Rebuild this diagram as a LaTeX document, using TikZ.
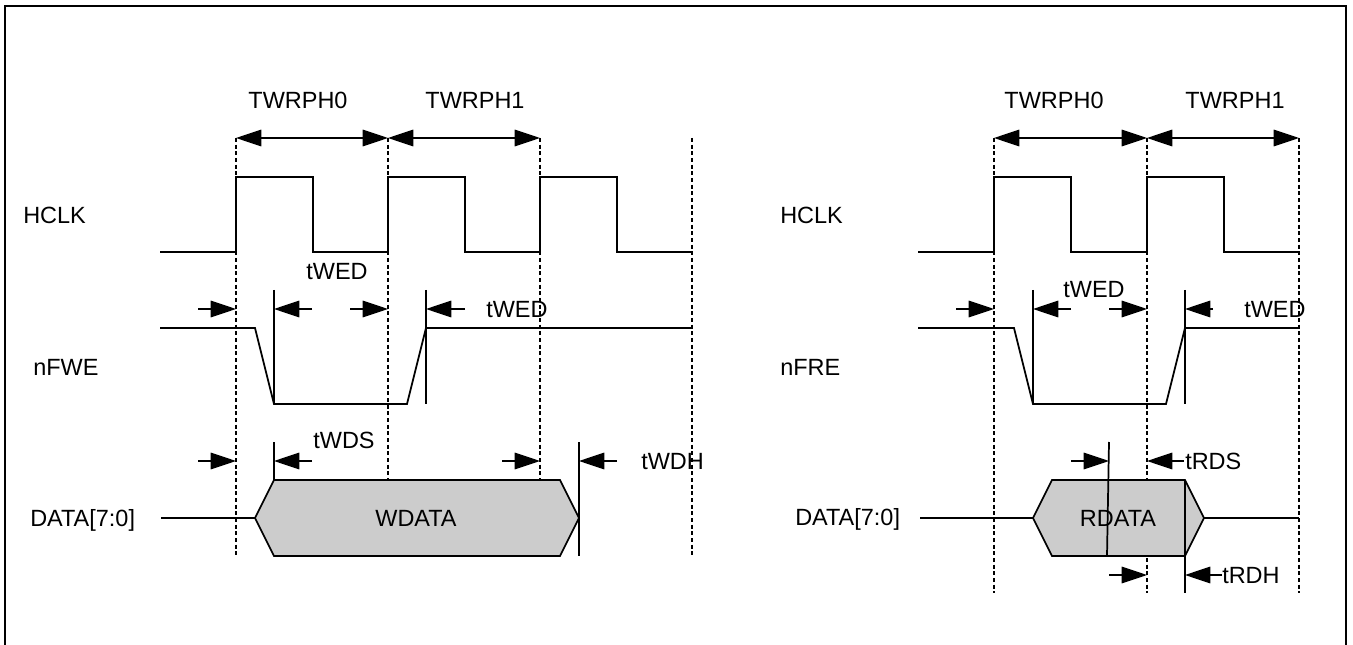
\documentclass[tikz,border=0pt]{standalone}
\usepackage{fontspec}
\setmainfont{Liberation Sans}
\usetikzlibrary{arrows.meta,positioning}

\begin{document}
\begin{tikzpicture}[x=0.75pt,y=-0.75pt]
\tikzstyle{lbl} = [font=\fontsize{17.6}{20}\selectfont, inner sep=0pt, text height=12.6pt, text depth=0pt]
\tikzstyle{wave} = [line width=1.3pt]
\tikzstyle{guide} = [line width=0.9pt, dash pattern=on 3pt off 2pt]
\tikzstyle{dimarrow} = [line width=0.9pt, -{Triangle[length=19pt,width=12.5pt]}]
\tikzstyle{spanarrow} = [line width=0.9pt, {Triangle[length=19pt,width=12.5pt]}-{Triangle[length=19pt,width=12.5pt]}]
\tikzstyle{bus} = [wave, fill=black!20]

\useasboundingbox (0,0) rectangle (1353,645);

% Outer frame
\draw[line width=1.5pt] (5,645) -- (5,6) -- (1346,6) -- (1346,645);

% Write cycle: periods and guides
\node [lbl] (wPhZero) at (298,100) {TWRPH0};
\node [lbl] (wPhOne) at (475,100) {TWRPH1};
\draw[spanarrow] (236,138) -- (388,138);
\draw[spanarrow] (388,138) -- (540,138);
\foreach \x in {236,388,540,692} \draw[guide] (\x,138) -- (\x,556);

% Write cycle: HCLK
\node [lbl, anchor=west] (wClkLabel) at (23,215) {HCLK};
\draw[wave] (160,252) foreach \x in {236,388,540} { -- (\x,252) -- (\x,177) -- (\x+77,177) -- (\x+77,252) } -- (692,252);

% Write cycle: nFWE
\node [lbl, anchor=west] (wWeLabel) at (33,367) {nFWE};
\draw[wave] (160,328) -- (255,328) -- (274,404) -- (407,404) -- (426,328) -- (692,328);
\draw[wave] (274,290) -- (274,404);
\draw[wave] (426,290) -- (426,404);
\draw[dimarrow] (198,309) -- (236,309);
\draw[dimarrow] (312,309) -- (274,309);
\draw[dimarrow] (350,309) -- (388,309);
\draw[dimarrow] (465,309) -- (426,309);
\node [lbl] (wWedA) at (337,271) {tWED};
\node [lbl, anchor=west] (wWedB) at (486,309) {tWED};

% Write cycle: DATA[7:0]
\node [lbl, anchor=west] (wDataLabel) at (30,518) {DATA[7:0]};
\draw[wave] (161,518) -- (255,518);
\draw[bus] (255,518) -- (274,480) -- (560,480) -- (579,518) -- (560,556) -- (274,556) -- cycle;
\node [lbl] (wData) at (416,518) {WDATA};
\draw[wave] (274,442) -- (274,480);
\draw[wave] (579,442) -- (579,556);
\draw[dimarrow] (198,461) -- (236,461);
\draw[dimarrow] (312,461) -- (274,461);
\draw[dimarrow] (502,461) -- (540,461);
\draw[dimarrow] (617,461) -- (579,461);
\node [lbl] (wWds) at (344,440) {tWDS};
\node [lbl, anchor=west] (wWdh) at (641,461) {tWDH};

% Read cycle: periods and guides
\node [lbl] (rPhZero) at (1054,100) {TWRPH0};
\node [lbl] (rPhOne) at (1235,100) {TWRPH1};
\draw[spanarrow] (994,138) -- (1147,138);
\draw[spanarrow] (1147,138) -- (1299,138);
\foreach \x in {994,1147,1299} \draw[guide] (\x,138) -- (\x,593);

% Read cycle: HCLK
\node [lbl, anchor=west] (rClkLabel) at (780,215) {HCLK};
\draw[wave] (918,252) foreach \x in {994,1147} { -- (\x,252) -- (\x,177) -- (\x+77,177) -- (\x+77,252) } -- (1299,252);

% Read cycle: nFRE
\node [lbl, anchor=west] (rReLabel) at (780,367) {nFRE};
\draw[wave] (918,328) -- (1014,328) -- (1033,404) -- (1166,404) -- (1185,328) -- (1299,328);
\draw[wave] (1033,290) -- (1033,404);
\draw[wave] (1185,290) -- (1185,404);
\draw[dimarrow] (956,309) -- (994,309);
\draw[dimarrow] (1071,309) -- (1033,309);
\draw[dimarrow] (1109,309) -- (1147,309);
\draw[dimarrow] (1213,309) -- (1185,309);
\node [lbl] (rWedA) at (1094,289) {tWED};
\node [lbl, anchor=west] (rWedB) at (1244,309) {tWED};

% Read cycle: DATA[7:0]
\node [lbl, anchor=west] (rDataLabel) at (795,517) {DATA[7:0]};
\draw[wave] (920,518) -- (1033,518);
\draw[bus] (1033,518) -- (1052,480) -- (1185,480) -- (1204,518) -- (1185,556) -- (1052,556) -- cycle;
\draw[wave] (1204,518) -- (1299,518);
\node [lbl] (rData) at (1118,518) {RDATA};
\draw[wave] (1109,442) -- (1107,556);
\draw[wave] (1185,480) -- (1185,593);
\draw[dimarrow] (1071,461) -- (1109,461);
\draw[dimarrow] (1184,461) -- (1147,461);
\draw[dimarrow] (1109,575) -- (1147,575);
\draw[dimarrow] (1222,575) -- (1185,575);
\node [lbl, anchor=west] (rRds) at (1185,461) {tRDS};
\node [lbl, anchor=west] (rRdh) at (1222,575) {tRDH};

\end{tikzpicture}
\end{document}
